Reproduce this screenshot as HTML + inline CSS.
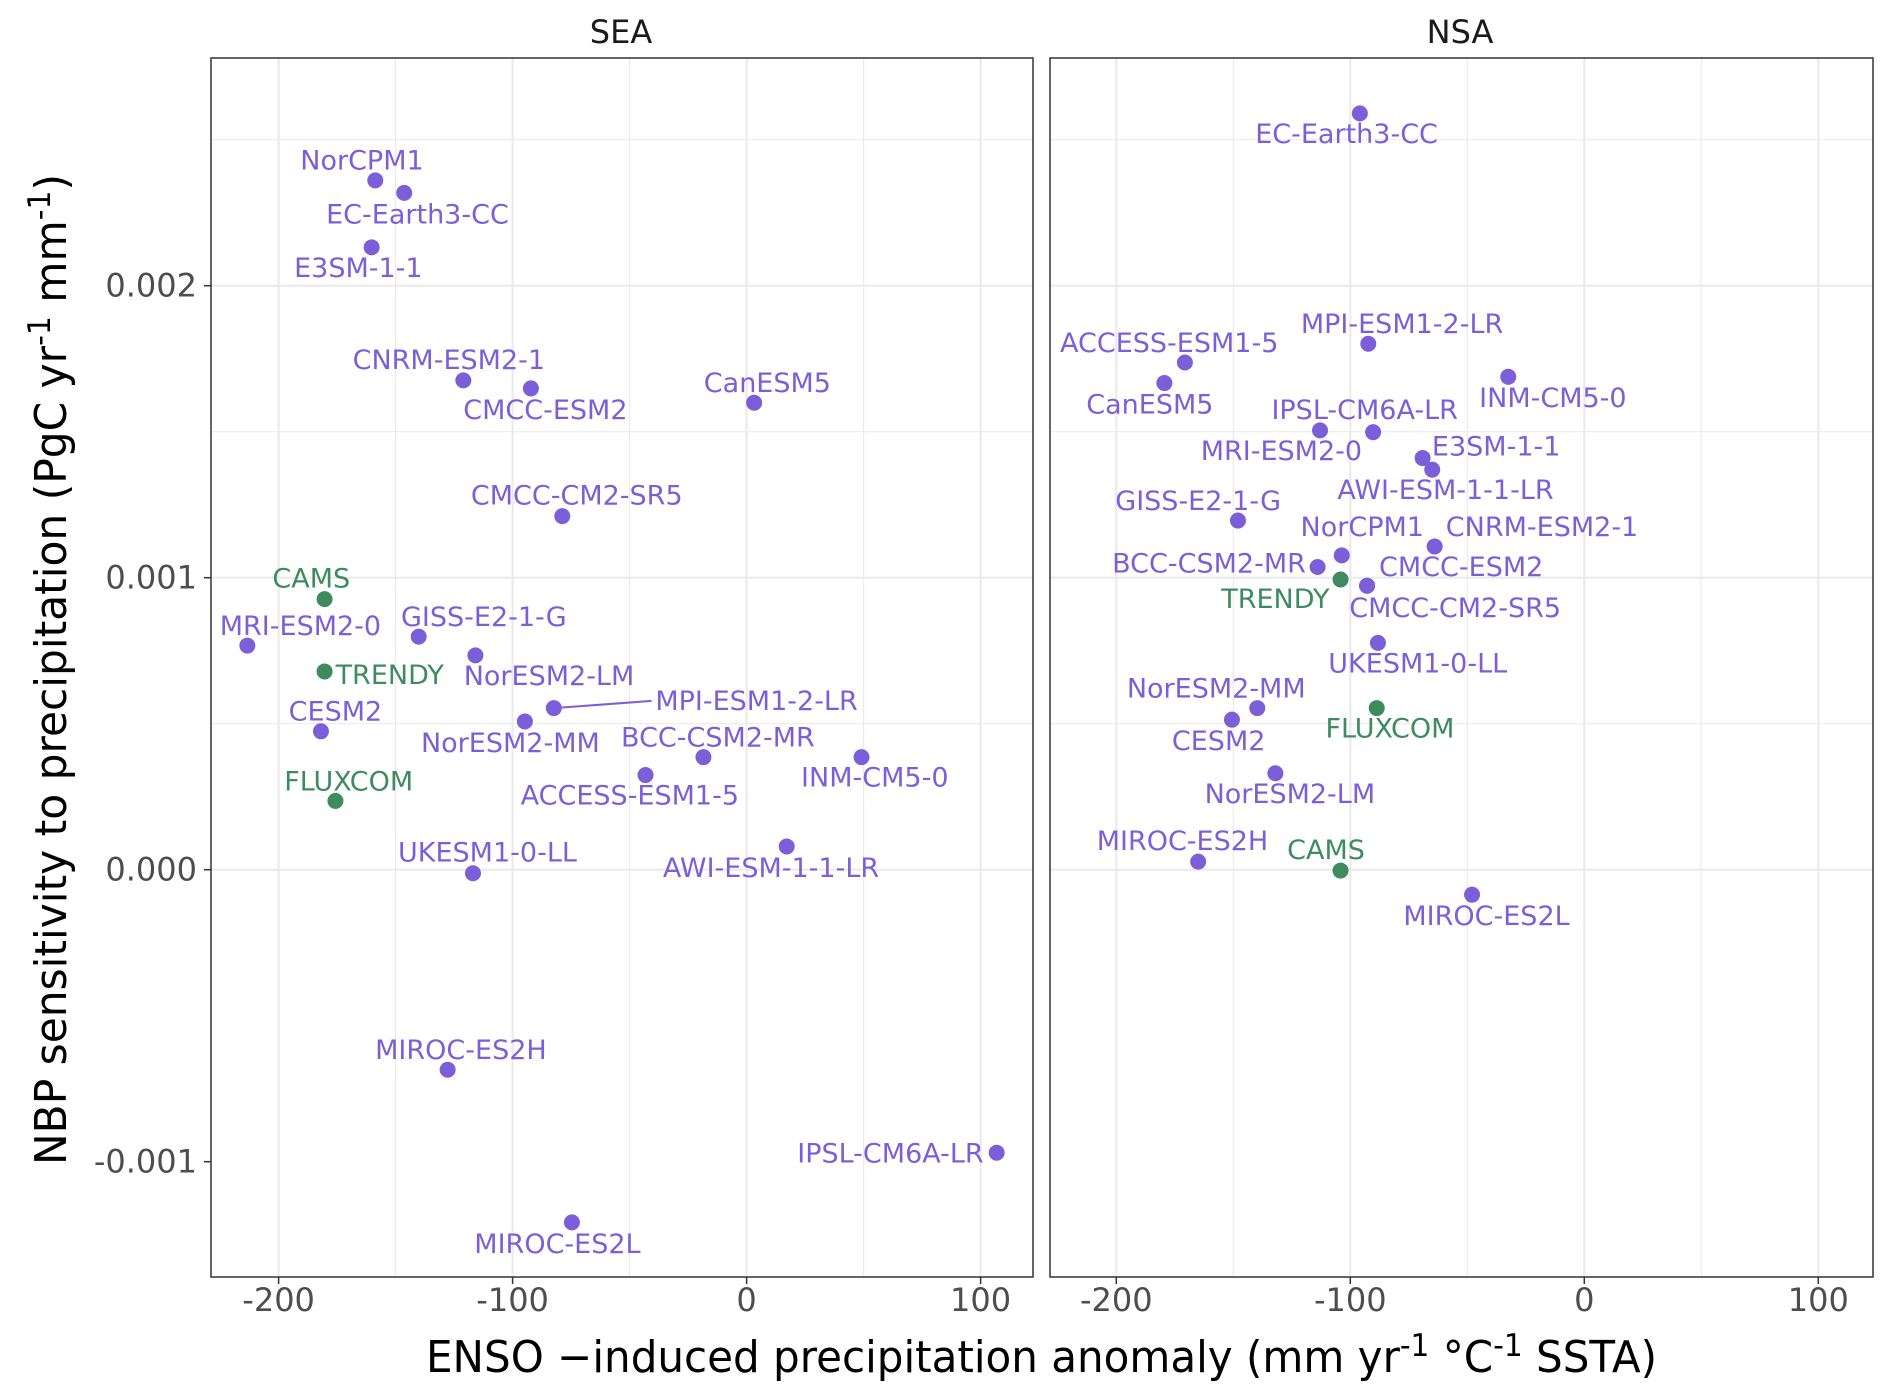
<!DOCTYPE html>
<html><head><meta charset="utf-8"><style>
html,body{margin:0;padding:0;background:#fff}
svg{display:block;font-family:"DejaVu Sans","Liberation Sans",sans-serif}
</style></head><body>
<svg id="s" width="1892" height="1400" viewBox="0 0 1892 1400" xmlns="http://www.w3.org/2000/svg">
<rect width="1892" height="1400" fill="#fff"/>
</svg>
<script>
var s=document.getElementById('s');var NS='http://www.w3.org/2000/svg';
function el(t,a,txt){var e=document.createElementNS(NS,t);for(var k in a)e.setAttribute(k,a[k]);if(txt!=null)e.textContent=txt;s.appendChild(e);return e;}
var SX=1.2066,SY=0.8929;
var panels=[{x0:211,x1:1033,zero:746.6},{x0:1050,x1:1873,zero:1584.3}];
var pTop=58,pBot=1277,ppx=2.34;
var yt=[285.7,577.7,869.7,1161.7];
panels.forEach(function(p){
  for(var v=-250;v<=150;v+=50){var x=p.zero+v*ppx;if(x<=p.x0||x>=p.x1)continue;
    el('line',{x1:x,x2:x,y1:pTop,y2:pBot,stroke:'#ebebeb','stroke-width':(v%100==0)?2.2:1.2});}
  for(var i=-1;i<5;i++){var y=285.7+i*146;if(y<=pTop||y>=pBot)continue;
    el('line',{x1:p.x0,x2:p.x1,y1:y,y2:y,stroke:'#ebebeb','stroke-width':(i%2==0)?2.2:1.2});}
  el('rect',{x:p.x0,y:pTop,width:p.x1-p.x0,height:pBot-pTop,fill:'none',stroke:'#333','stroke-width':1.5});
  [-200,-100,0,100].forEach(function(v){var x=p.zero+v*ppx;
    el('line',{x1:x,x2:x,y1:pBot,y2:pBot+7,stroke:'#333','stroke-width':1.5});
    el('text',{x:x,y:pBot+34,'text-anchor':'middle','font-size':32,fill:'#4d4d4d'},v);});
});
var yl=['0.002','0.001','0.000','-0.001'];
yt.forEach(function(y,i){el('line',{x1:204,x2:211,y1:y,y2:y,stroke:'#333','stroke-width':1.5});
  el('text',{x:197,y:y+11,'text-anchor':'end','font-size':32,fill:'#4d4d4d'},yl[i]);});
el('text',{x:621,y:43,'text-anchor':'middle','font-size':32,fill:'#1a1a1a'},'SEA');
el('text',{x:1460,y:43,'text-anchor':'middle','font-size':32,fill:'#1a1a1a'},'NSA');
var xt=el('text',{x:426,y:1372,'font-size':44,fill:'#000',textLength:1231,lengthAdjust:'spacingAndGlyphs'});
xt.innerHTML='ENSO −induced precipitation anomaly (mm yr<tspan dy="-16" font-size="31">-1</tspan><tspan dy="16"> °C</tspan><tspan dy="-16" font-size="31">-1</tspan><tspan dy="16"> SSTA)</tspan>';
var ytl=el('text',{transform:'translate(66,1165) rotate(-90)','font-size':44,fill:'#000',textLength:991,lengthAdjust:'spacingAndGlyphs'});
ytl.innerHTML='NBP sensitivity to precipitation (PgC yr<tspan dy="-16" font-size="31">-1</tspan><tspan dy="16"> mm</tspan><tspan dy="-16" font-size="31">-1</tspan><tspan dy="16">)</tspan>';
var P='#7b5fd8',G='#3d8b5f';
var d=[
['NorCPM1',311,202,300,180,P],['EC-Earth3-CC',335,216,346,240,P],['E3SM-1-1',308,277,297,300,P],
['CNRM-ESM2-1',384,426,372,403,P],['CMCC-ESM2',440,435,452,459,P],['CanESM5',625,451,636,429,P],
['CMCC-CM2-SR5',466,578,478,555,P],['CAMS',269,671,258,648,G],['MRI-ESM2-0',205,723,249,701,P],
['GISS-E2-1-G',347,713,401,691,P],['NorESM2-LM',394,734,455,757,P],['TRENDY',269,752,323,756,G],
['MPI-ESM1-2-LR',459,793,627,785,P],['CESM2',266,819,278,797,P],['NorESM2-MM',435,808,423,832,P],
['BCC-CSM2-MR',583,848,595,826,P],['INM-CM5-0',714,848,725,871,P],['ACCESS-ESM1-5',535,868,522,891,P],
['FLUXCOM',278,897,289,875,G],['AWI-ESM-1-1-LR',652,948,639,972,P],['UKESM1-0-LL',392,978,404,955,P],
['MIROC-ES2H',371,1198,382,1176,P],['IPSL-CM6A-LR',826,1291,738,1292,P],['MIROC-ES2L',474,1369,462,1393,P],
['EC-Earth3-CC',1127,127,1116,150,P],['MPI-ESM1-2-LR',1134,385,1162,363,P],['ACCESS-ESM1-5',982,406,969,384,P],
['CanESM5',965,429,953,453,P],['INM-CM5-0',1250,422,1287,446,P],['IPSL-CM6A-LR',1138,484,1131,459,P],
['MRI-ESM2-0',1094,482,1062,505,P],['E3SM-1-1',1179,513,1240,500,P],['AWI-ESM-1-1-LR',1187,526,1198,549,P],
['GISS-E2-1-G',1026,583,993,561,P],['NorCPM1',1112,622,1129,590,P],['CNRM-ESM2-1',1189,612,1278,590,P],
['BCC-CSM2-MR',1092,635,1002,631,P],['CMCC-ESM2',1133,656,1211,635,P],['TRENDY',1111,649,1057,671,G],
['CMCC-CM2-SR5',1133,656,1206,681,P],['UKESM1-0-LL',1142,720,1175,743,P],['NorESM2-MM',1042,793,1008,771,P],
['CESM2',1021,806,1010,830,P],['FLUXCOM',1141,793,1152,816,G],['NorESM2-LM',1057,866,1069,889,P],
['MIROC-ES2H',993,965,980,942,P],['CAMS',1111,975,1099,952,G],['MIROC-ES2L',1220,1002,1232,1026,P]];
el('line',{x1:459*SX,y1:793*SY,x2:540*SX,y2:785*SY,stroke:P,'stroke-width':2});
d.forEach(function(r){
  el('circle',{cx:r[1]*SX,cy:r[2]*SY,r:8,fill:r[5]});
  el('text',{x:r[3]*SX,y:r[4]*SY+9,'text-anchor':'middle','font-size':27,fill:r[5]},r[0]);
});
</script>
</body></html>
